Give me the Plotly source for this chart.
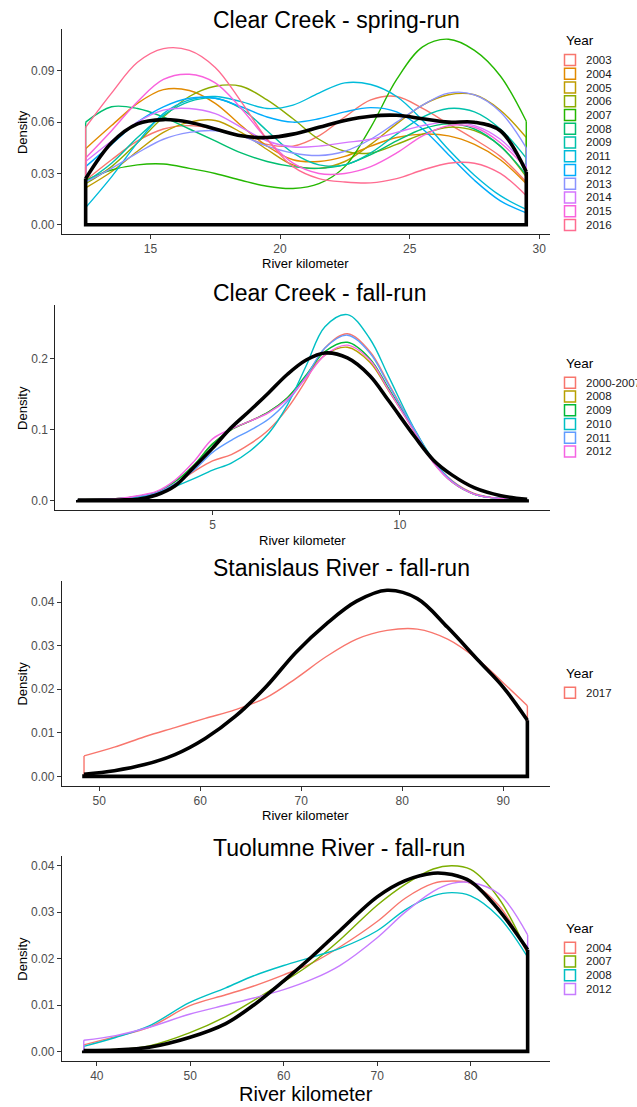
import plotly.graph_objects as go

W, H = 637, 1107
FONT = "Liberation Sans, Arial, sans-serif"

# ---------------- Panel 1: Clear Creek - spring-run ----------------
p1_title = "Clear Creek - spring-run"
p1_years = ["2003", "2004", "2005", "2006", "2007", "2008", "2009",
            "2011", "2012", "2013", "2014", "2015", "2016"]
p1_colors = ["#F8766D", "#E18A00", "#BE9C00", "#8CAB00", "#24B700", "#00BE70",
             "#00C1AB", "#00BBDA", "#00ACFC", "#8B93FF", "#D575FE", "#F962DD", "#FF6C91"]
p1_x = [12.5, 13.5, 14.5, 15.5, 16.5, 17.5, 18.5, 19.5, 20.5, 21.5, 22.5,
        23.5, 24.5, 25.5, 26.5, 27.5, 28.5, 29.5]
p1_2003 = [0.026, 0.038, 0.049, 0.056, 0.058, 0.056, 0.052, 0.047, 0.046, 0.052,
           0.063, 0.073, 0.075, 0.068, 0.059, 0.050, 0.040, 0.025]
p1_2004 = [0.0445, 0.058, 0.071, 0.079, 0.0785, 0.071, 0.058, 0.046, 0.038, 0.037,
           0.040, 0.046, 0.051, 0.053, 0.052, 0.047, 0.038, 0.024]
p1_2005 = [0.0216, 0.031, 0.043, 0.054, 0.060, 0.061, 0.054, 0.044, 0.035, 0.033,
           0.037, 0.047, 0.059, 0.070, 0.076, 0.076, 0.067, 0.051]
p1_2006 = [0.024, 0.034, 0.048, 0.063, 0.075, 0.081, 0.081, 0.073, 0.062, 0.050,
           0.043, 0.042, 0.047, 0.053, 0.057, 0.055, 0.046, 0.028]
p1_2007 = [0.026, 0.032, 0.035, 0.0355, 0.033, 0.030, 0.026, 0.0225, 0.0212, 0.024,
           0.034, 0.057, 0.085, 0.104, 0.1085, 0.102, 0.087, 0.0605]
p1_2008 = [0.060, 0.069, 0.068, 0.063, 0.056, 0.049, 0.042, 0.037, 0.034, 0.033,
           0.035, 0.041, 0.049, 0.056, 0.059, 0.056, 0.046, 0.029]
p1_2009 = [0.025, 0.036, 0.051, 0.064, 0.072, 0.074, 0.068, 0.055, 0.042, 0.035,
           0.035, 0.042, 0.053, 0.063, 0.068, 0.066, 0.056, 0.039]
p1_2011 = [0.010, 0.028, 0.048, 0.065, 0.073, 0.075, 0.072, 0.068, 0.070, 0.077,
           0.083, 0.082, 0.075, 0.061, 0.044, 0.029, 0.017, 0.009]
p1_2012 = [0.034, 0.047, 0.060, 0.069, 0.074, 0.074, 0.069, 0.063, 0.060, 0.062,
           0.066, 0.0685, 0.066, 0.056, 0.041, 0.026, 0.014, 0.007]
p1_2013 = [0.025, 0.033, 0.042, 0.050, 0.054, 0.055, 0.052, 0.046, 0.042, 0.0405,
           0.043, 0.050, 0.060, 0.070, 0.077, 0.076, 0.066, 0.045]
p1_2014 = [0.037, 0.049, 0.060, 0.067, 0.068, 0.065, 0.057, 0.049, 0.0455, 0.046,
           0.048, 0.050, 0.054, 0.058, 0.060, 0.058, 0.050, 0.034]
p1_2015 = [0.039, 0.055, 0.072, 0.085, 0.088, 0.083, 0.068, 0.050, 0.036, 0.030,
           0.030, 0.034, 0.042, 0.052, 0.058, 0.057, 0.048, 0.033]
p1_2016 = [0.057, 0.077, 0.095, 0.103, 0.102, 0.092, 0.072, 0.050, 0.034, 0.027,
           0.025, 0.0245, 0.027, 0.032, 0.036, 0.036, 0.030, 0.017]
p1_total = [0.027, 0.048, 0.059, 0.0615, 0.060, 0.056, 0.052, 0.051, 0.053, 0.057,
            0.061, 0.0635, 0.064, 0.062, 0.060, 0.060, 0.055, 0.031]
p1_series = [p1_2003, p1_2004, p1_2005, p1_2006, p1_2007, p1_2008, p1_2009,
             p1_2011, p1_2012, p1_2013, p1_2014, p1_2015, p1_2016]
p1_xticks = [15, 20, 25, 30]
p1_yticks = [0.00, 0.03, 0.06, 0.09]

# ---------------- Panel 2: Clear Creek - fall-run ----------------
p2_title = "Clear Creek - fall-run"
p2_years = ["2000-2007", "2008", "2009", "2010", "2011", "2012"]
p2_colors = ["#F8766D", "#B79F00", "#00BA38", "#00BFC4", "#619CFF", "#F564E3"]
p2_x = [1.4, 2.5, 3.0, 3.5, 4.0, 4.5, 5.0, 5.5, 6.0, 6.5, 7.0, 7.5, 8.0, 8.6,
        9.2, 9.7, 10.4, 10.9, 11.4, 12.0, 12.7, 13.4]
p2_2000_2007 = [0.001, 0.003, 0.006, 0.011, 0.024, 0.041, 0.056, 0.065, 0.080, 0.100, 0.130,
                0.170, 0.215, 0.235, 0.210, 0.165, 0.099, 0.056, 0.028, 0.010, 0.003, 0.001]
p2_2008 = [0.001, 0.003, 0.006, 0.012, 0.027, 0.050, 0.080, 0.100, 0.112, 0.125, 0.145,
           0.175, 0.205, 0.216, 0.195, 0.155, 0.097, 0.054, 0.027, 0.009, 0.003, 0.001]
p2_2009 = [0.001, 0.003, 0.006, 0.012, 0.027, 0.050, 0.080, 0.100, 0.112, 0.125, 0.145,
           0.177, 0.210, 0.223, 0.200, 0.158, 0.098, 0.054, 0.026, 0.009, 0.003, 0.001]
p2_2010 = [0.001, 0.002, 0.005, 0.010, 0.020, 0.031, 0.043, 0.053, 0.070, 0.095, 0.135,
           0.190, 0.245, 0.262, 0.228, 0.175, 0.100, 0.057, 0.027, 0.009, 0.003, 0.001]
p2_2011 = [0.001, 0.003, 0.006, 0.011, 0.024, 0.043, 0.068, 0.085, 0.099, 0.115, 0.140,
           0.175, 0.215, 0.233, 0.208, 0.163, 0.099, 0.055, 0.027, 0.009, 0.003, 0.001]
p2_2012 = [0.001, 0.003, 0.007, 0.013, 0.029, 0.055, 0.087, 0.101, 0.112, 0.124, 0.143,
           0.173, 0.205, 0.219, 0.198, 0.156, 0.096, 0.053, 0.026, 0.009, 0.003, 0.001]
p2_total = [0.001, 0.001, 0.002, 0.008, 0.021, 0.047, 0.074, 0.103, 0.127, 0.152, 0.178,
            0.198, 0.208, 0.201, 0.176, 0.141, 0.090, 0.057, 0.036, 0.018, 0.007, 0.002]
p2_series = [p2_2000_2007, p2_2008, p2_2009, p2_2010, p2_2011, p2_2012]
p2_xticks = [5, 10]
p2_yticks = [0.0, 0.1, 0.2]

# ---------------- Panel 3: Stanislaus River - fall-run ----------------
p3_title = "Stanislaus River - fall-run"
p3_years = ["2017"]
p3_colors = ["#F8766D"]
p3_x = [48.5, 51.5, 54.5, 57.5, 60.5, 63.5, 66.5, 69.5, 72.5, 75.5, 78.5, 81.5,
        84.5, 87.5, 90.0, 92.4]
p3_2017 = [0.0047, 0.0067, 0.0091, 0.0112, 0.0133, 0.0153, 0.0180, 0.0225, 0.0275,
           0.0315, 0.0335, 0.0338, 0.0315, 0.0268, 0.0215, 0.0162]
p3_total = [0.0005, 0.0013, 0.0027, 0.0050, 0.0087, 0.0138, 0.0205, 0.0285, 0.0350,
            0.0402, 0.0427, 0.0408, 0.0342, 0.0267, 0.0205, 0.0129]
p3_series = [p3_2017]
p3_xticks = [50, 60, 70, 80, 90]
p3_yticks = [0.00, 0.01, 0.02, 0.03, 0.04]

# ---------------- Panel 4: Tuolumne River - fall-run ----------------
p4_title = "Tuolumne River - fall-run"
p4_years = ["2004", "2007", "2008", "2012"]
p4_colors = ["#F8766D", "#7CAE00", "#00BFC4", "#C77CFF"]
p4_x = [38.6, 42, 45.6, 49.9, 53.8, 56.8, 60, 63, 66, 70, 73, 76, 78, 80, 83, 86.1]
p4_2004 = [0.0014, 0.0032, 0.0052, 0.0098, 0.0122, 0.0141, 0.0165, 0.0190, 0.0225,
           0.0280, 0.0330, 0.0362, 0.0367, 0.0362, 0.0315, 0.0210]
p4_2007 = [0.0002, 0.0004, 0.0012, 0.0040, 0.0075, 0.0110, 0.0150, 0.0190, 0.0240,
           0.0315, 0.0360, 0.0393, 0.0400, 0.0392, 0.0330, 0.0212]
p4_2008 = [0.0011, 0.0030, 0.0055, 0.0105, 0.0137, 0.0163, 0.0185, 0.0203, 0.0222,
           0.0260, 0.0305, 0.0335, 0.0342, 0.0335, 0.0290, 0.0203]
p4_2012 = [0.0024, 0.0034, 0.0052, 0.0080, 0.0100, 0.0115, 0.0133, 0.0155, 0.0185,
           0.0245, 0.0300, 0.0345, 0.0362, 0.0364, 0.0340, 0.0251]
p4_total = [0.0002, 0.0003, 0.0009, 0.0030, 0.0060, 0.0100, 0.0152, 0.0204, 0.0260,
            0.0333, 0.0368, 0.0384, 0.0381, 0.0366, 0.0305, 0.0219]
p4_series = [p4_2004, p4_2007, p4_2008, p4_2012]
p4_xticks = [40, 50, 60, 70, 80]
p4_yticks = [0.00, 0.01, 0.02, 0.03, 0.04]

x_label = "River kilometer"
y_label = "Density"
legend_title = "Year"

# ---------------- layout helpers (pixel geometry) ----------------
def px(x):
    return x / W

def py(y):
    return 1 - y / H

panels = [
    dict(title=p1_title, x=p1_x, series=p1_series, total=p1_total, years=p1_years,
         colors=p1_colors, xticks=p1_xticks, yticks=p1_yticks, yfmt=".2f",
         box=(61.8, 549.6, 29.3, 234.0), title_y=20, xlab_y=263, xlab_size=13,
         leg_title_y=40, leg_first_y=60, xrng=(11.58, 30.40), yrng=(-0.0054, 0.1143)),
    dict(title=p2_title, x=p2_x, series=p2_series, total=p2_total, years=p2_years,
         colors=p2_colors, xticks=p2_xticks, yticks=p2_yticks, yfmt=".1f",
         box=(55.3, 549.6, 305.0, 510.0), title_y=293, xlab_y=540, xlab_size=13,
         leg_title_y=364, leg_first_y=382.7, xrng=(0.80, 14.0), yrng=(-0.0131, 0.2755)),
    dict(title=p3_title, x=p3_x, series=p3_series, total=p3_total, years=p3_years,
         colors=p3_colors, xticks=p3_xticks, yticks=p3_yticks, yfmt=".2f",
         box=(61.8, 549.6, 580.7, 785.7), title_y=568, xlab_y=815, xlab_size=13,
         leg_title_y=673, leg_first_y=692.7, xrng=(46.3, 94.6), yrng=(-0.00214, 0.0449)),
    dict(title=p4_title, x=p4_x, series=p4_series, total=p4_total, years=p4_years,
         colors=p4_colors, xticks=p4_xticks, yticks=p4_yticks, yfmt=".2f",
         box=(61.8, 549.6, 856.0, 1060.7), title_y=848, xlab_y=1094, xlab_size=20,
         leg_title_y=928, leg_first_y=947.7, xrng=(36.25, 88.45), yrng=(-0.0020, 0.0421)),
]

fig = go.Figure()
annotations = []
shapes = []
layout_axes = {}

for i, p in enumerate(panels, start=1):
    xa = "x" if i == 1 else f"x{i}"
    ya = "y" if i == 1 else f"y{i}"
    xl, xr, yt, yb = p["box"]
    axis_common = dict(showgrid=False, zeroline=False, showline=True, linecolor="#222222",
                       linewidth=1, ticks="outside", ticklen=4, tickwidth=1,
                       tickcolor="#333333", tickfont=dict(family=FONT, size=12, color="#4D4D4D"),
                       fixedrange=True)
    layout_axes["xaxis" if i == 1 else f"xaxis{i}"] = dict(
        axis_common, domain=[px(xl), px(xr)], range=list(p["xrng"]),
        tickvals=p["xticks"], anchor=ya)
    layout_axes["yaxis" if i == 1 else f"yaxis{i}"] = dict(
        axis_common, domain=[py(yb), py(yt)], range=list(p["yrng"]),
        tickvals=p["yticks"], tickformat=p["yfmt"], anchor=xa)

    xs = p["x"]
    for ys, col in zip(p["series"], p["colors"]):
        fig.add_trace(go.Scatter(x=xs, y=ys, mode="lines", xaxis=xa, yaxis=ya,
                                 line=dict(color=col, width=1.4, shape="spline", smoothing=1.0),
                                 showlegend=False, hoverinfo="skip"))
        fig.add_trace(go.Scatter(x=[xs[0], xs[0], xs[-1], xs[-1]], y=[ys[0], 0, 0, ys[-1]],
                                 mode="lines", xaxis=xa, yaxis=ya,
                                 line=dict(color=col, width=1.4),
                                 showlegend=False, hoverinfo="skip"))
    tot = p["total"]
    fig.add_trace(go.Scatter(x=xs, y=tot, mode="lines", xaxis=xa, yaxis=ya,
                             line=dict(color="black", width=3.6, shape="spline", smoothing=1.0),
                             showlegend=False, hoverinfo="skip"))
    fig.add_trace(go.Scatter(x=[xs[0], xs[0], xs[-1], xs[-1]], y=[tot[0], 0, 0, tot[-1]],
                             mode="lines", xaxis=xa, yaxis=ya,
                             line=dict(color="black", width=3.6),
                             showlegend=False, hoverinfo="skip"))

    # panel title
    annotations.append(dict(text=p["title"], x=px(211), y=py(p["title_y"]), xref="paper",
                            yref="paper", xanchor="left", yanchor="middle", showarrow=False,
                            font=dict(family=FONT, size=23, color="black")))
    # axis titles
    annotations.append(dict(text=x_label, x=px((xl + xr) / 2), y=py(p["xlab_y"]), xref="paper",
                            yref="paper", xanchor="center", yanchor="middle", showarrow=False,
                            font=dict(family=FONT, size=p["xlab_size"], color="black")))
    annotations.append(dict(text=y_label, x=px(22.4), y=py((yt + yb) / 2), xref="paper",
                            yref="paper", xanchor="center", yanchor="middle", showarrow=False,
                            textangle=-90, font=dict(family=FONT, size=13, color="black")))
    # manual legend
    annotations.append(dict(text=legend_title, x=px(564), y=py(p["leg_title_y"]), xref="paper",
                            yref="paper", xanchor="left", yanchor="middle", showarrow=False,
                            font=dict(family=FONT, size=13.5, color="black")))
    step = 13.75
    for k, (lab, col) in enumerate(zip(p["years"], p["colors"])):
        cy = p["leg_first_y"] + k * step
        shapes.append(dict(type="rect", xref="paper", yref="paper",
                           x0=px(564.5), x1=px(575.5), y0=py(cy + 5.5), y1=py(cy - 5.5),
                           line=dict(color=col, width=1.5), fillcolor="white"))
        annotations.append(dict(text=lab, x=px(583.5), y=py(cy), xref="paper", yref="paper",
                                xanchor="left", yanchor="middle", showarrow=False,
                                font=dict(family=FONT, size=11.5, color="#1A1A1A")))

fig.update_layout(width=W, height=H, autosize=False,
                  margin=dict(l=0, r=0, t=0, b=0),
                  paper_bgcolor="white", plot_bgcolor="white",
                  showlegend=False, annotations=annotations, shapes=shapes,
                  font=dict(family=FONT), **layout_axes)

fig.write_html("out.html", config={"displayModeBar": False, "staticPlot": True},
               post_script="document.body.style.margin='0';document.body.style.overflow='hidden';")
